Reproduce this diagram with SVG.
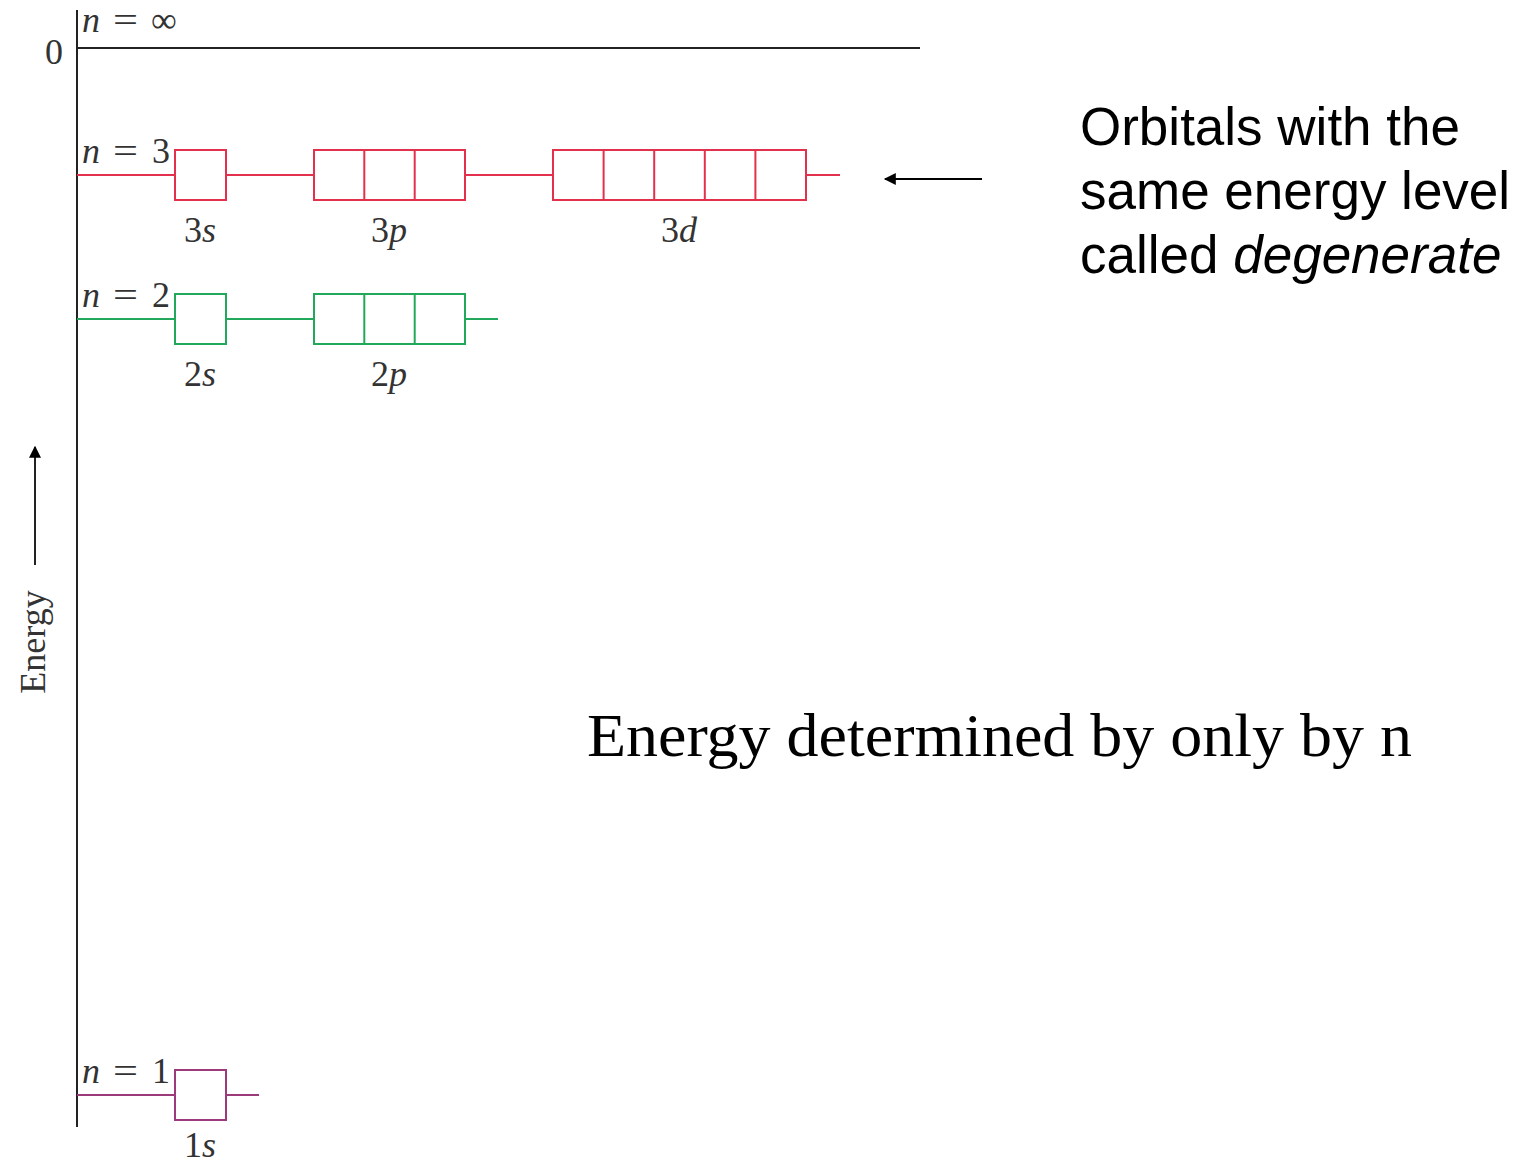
<svg xmlns="http://www.w3.org/2000/svg" width="1519" height="1166" viewBox="0 0 1519 1166">
<defs>
<style>
.ax{stroke:#222;stroke-width:2;fill:none}
.r{stroke:#e3304c;stroke-width:2;fill:none}
.g{stroke:#22a85a;stroke-width:2;fill:none}
.p{stroke:#9c3a7c;stroke-width:2;fill:none}
.lbl{font-family:"Liberation Serif","DejaVu Serif",serif;font-size:36px;fill:#333}
.it{font-style:italic}
.sans{font-family:"Liberation Sans",Arial,sans-serif;font-size:53px;fill:#000}
.big{font-family:"Liberation Serif","Times New Roman",serif;font-size:62px;fill:#000}
</style>
<marker id="ah2" viewBox="0 0 10 10" refX="9" refY="5" markerWidth="14" markerHeight="12" markerUnits="userSpaceOnUse" orient="auto"><path d="M0,0 L10,5 L0,10 z" fill="#000"/></marker>
</defs>
<rect width="1519" height="1166" fill="#fff"/>
<g id="axes">
<line class="ax" x1="77" y1="10" x2="77" y2="1127"/>
<line class="ax" x1="77" y1="48" x2="920" y2="48"/>
<text class="lbl" x="45" y="64">0</text>
<text class="lbl it" x="82" y="32">n</text>
<text class="lbl" x="113" y="32" textLength="25" lengthAdjust="spacingAndGlyphs">=</text>
<text class="lbl" x="151" y="32">∞</text>
</g>
<g id="energy-axis-label">
<line x1="35" y1="565" x2="35" y2="447" stroke="#222" stroke-width="2" marker-end="url(#ah2)"/>
<text class="lbl" font-size="40" transform="translate(45,642) rotate(-90)" text-anchor="middle">Energy</text>
</g>
<g id="n3">
<path class="r" d="M77,175 H175 M226,175 H314 M465,175 H553 M806,175 H840"/>
<rect x="175" y="150" width="51" height="50" class="r"/>
<rect x="314" y="150" width="151" height="50" class="r"/>
<line class="r" x1="364.3" y1="150" x2="364.3" y2="200"/>
<line class="r" x1="414.7" y1="150" x2="414.7" y2="200"/>
<rect x="553" y="150" width="253" height="50" class="r"/>
<line class="r" x1="603.6" y1="150" x2="603.6" y2="200"/>
<line class="r" x1="654.2" y1="150" x2="654.2" y2="200"/>
<line class="r" x1="704.8" y1="150" x2="704.8" y2="200"/>
<line class="r" x1="755.4" y1="150" x2="755.4" y2="200"/>
<text class="lbl it" x="82" y="163">n</text>
<text class="lbl" x="113" y="163" textLength="25" lengthAdjust="spacingAndGlyphs">=</text>
<text class="lbl" x="152" y="163">3</text>
<text class="lbl" x="200" y="242" text-anchor="middle">3<tspan class="it">s</tspan></text>
<text class="lbl" x="389" y="242" text-anchor="middle">3<tspan class="it">p</tspan></text>
<text class="lbl" x="679" y="242" text-anchor="middle">3<tspan class="it">d</tspan></text>
</g>
<g id="n2">
<path class="g" d="M77,319 H175 M226,319 H314 M465,319 H498"/>
<rect x="175" y="294" width="51" height="50" class="g"/>
<rect x="314" y="294" width="151" height="50" class="g"/>
<line class="g" x1="364.3" y1="294" x2="364.3" y2="344"/>
<line class="g" x1="414.7" y1="294" x2="414.7" y2="344"/>
<text class="lbl it" x="82" y="307">n</text>
<text class="lbl" x="113" y="307" textLength="25" lengthAdjust="spacingAndGlyphs">=</text>
<text class="lbl" x="152" y="307">2</text>
<text class="lbl" x="200" y="386" text-anchor="middle">2<tspan class="it">s</tspan></text>
<text class="lbl" x="389" y="386" text-anchor="middle">2<tspan class="it">p</tspan></text>
</g>
<g id="n1">
<path class="p" d="M77,1095 H175 M226,1095 H259"/>
<rect x="175" y="1070" width="51" height="50" class="p"/>
<text class="lbl it" x="82" y="1083">n</text>
<text class="lbl" x="113" y="1083" textLength="25" lengthAdjust="spacingAndGlyphs">=</text>
<text class="lbl" x="152" y="1083">1</text>
<text class="lbl" x="200" y="1157" text-anchor="middle">1<tspan class="it">s</tspan></text>
</g>
<g id="connectors">
<line x1="982" y1="179" x2="885" y2="179" stroke="#000" stroke-width="2" marker-end="url(#ah2)"/>
</g>
<g id="note-degenerate">
<text class="sans" x="1080" y="145">Orbitals with the</text>
<text class="sans" x="1080" y="209">same energy level</text>
<text class="sans" x="1080" y="273">called <tspan font-style="italic">degenerate</tspan></text>
</g>
<g id="note-energy">
<text class="big" x="587" y="756" textLength="825" lengthAdjust="spacingAndGlyphs">Energy determined by only by n</text>
</g>
</svg>
